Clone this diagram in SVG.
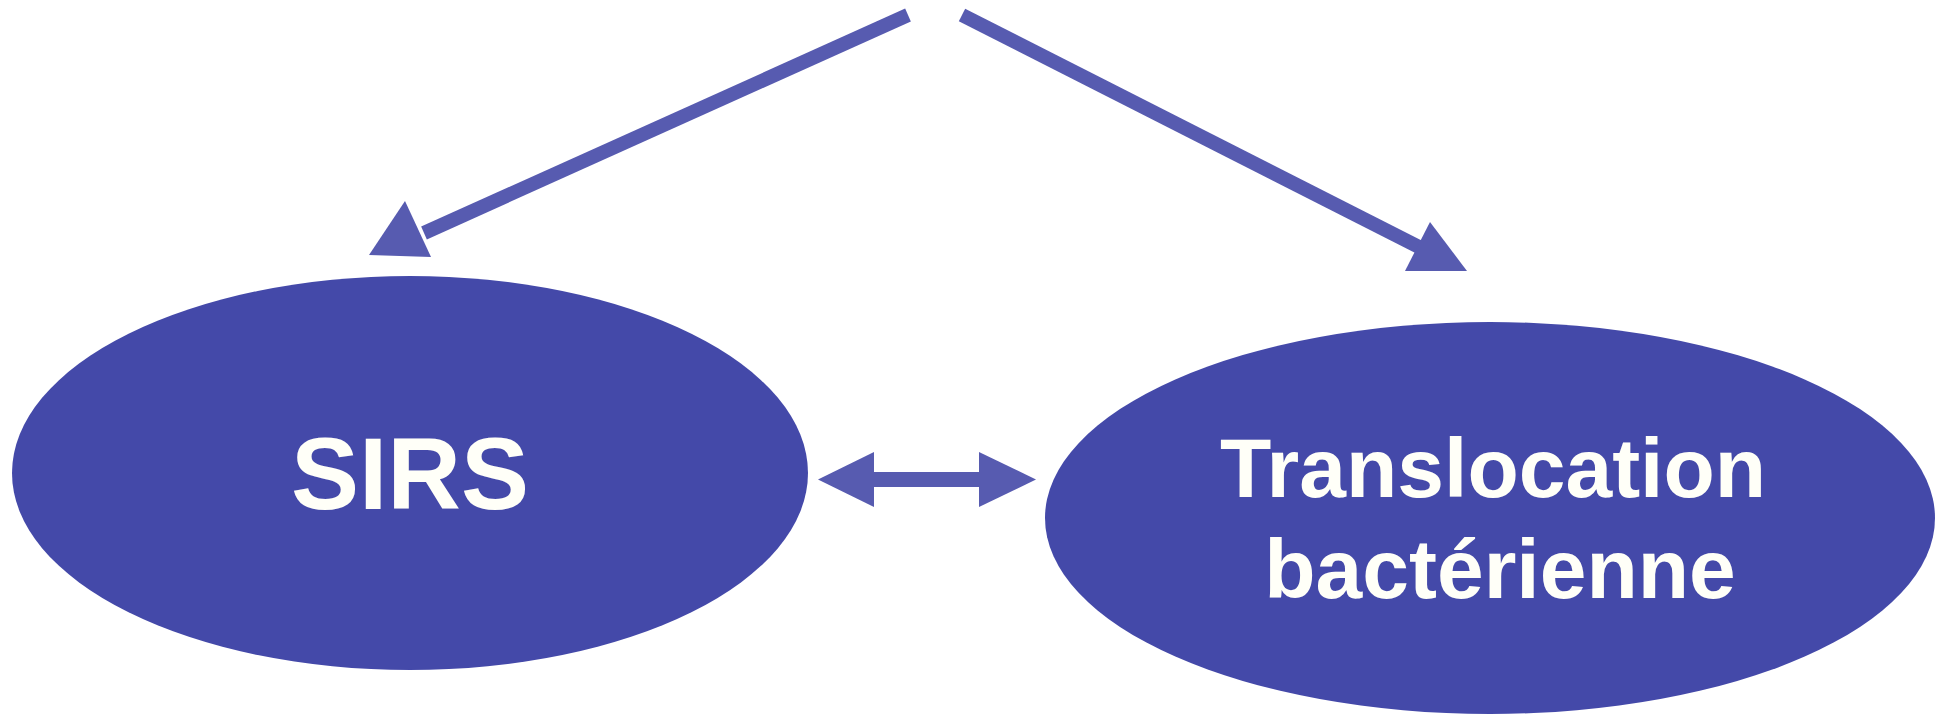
<svg xmlns="http://www.w3.org/2000/svg" width="1943" height="717" viewBox="0 0 1943 717">
<style>
.node{fill:#4449A9;}
.lbl{fill:#FFFFF8;font-family:"Liberation Sans",Arial,sans-serif;font-weight:bold;text-anchor:middle;}
.conn{stroke:#575BB0;stroke-width:14;fill:none;stroke-linecap:butt;}
.head{fill:#575BB0;}
</style>
<rect width="1943" height="717" fill="#FFFFFF"/>
<g id="connectors">
<line class="conn" x1="908" y1="15" x2="424" y2="233"/>
<polygon class="head" points="405,201 431,257 369,255"/>
<line class="conn" x1="962" y1="15" x2="1419" y2="247"/>
<polygon class="head" points="1430,222 1467,271 1405,271"/>
<g id="double-arrow">
<rect class="head" x="873" y="472" width="107" height="15"/>
<polygon class="head" points="818,479.5 874,452 874,507"/>
<polygon class="head" points="1036,479.5 979,452 979,507"/>
</g>
</g>
<g id="node-sirs">
<ellipse class="node" cx="410" cy="473" rx="398" ry="197"/>
<text class="lbl" x="410" y="509" font-size="102">SIRS</text>
</g>
<g id="node-translocation">
<ellipse class="node" cx="1490" cy="518" rx="445" ry="196"/>
<text class="lbl" x="1493" y="497" font-size="84">Translocation</text>
<text class="lbl" x="1500" y="598" font-size="84">bactérienne</text>
</g>
</svg>
